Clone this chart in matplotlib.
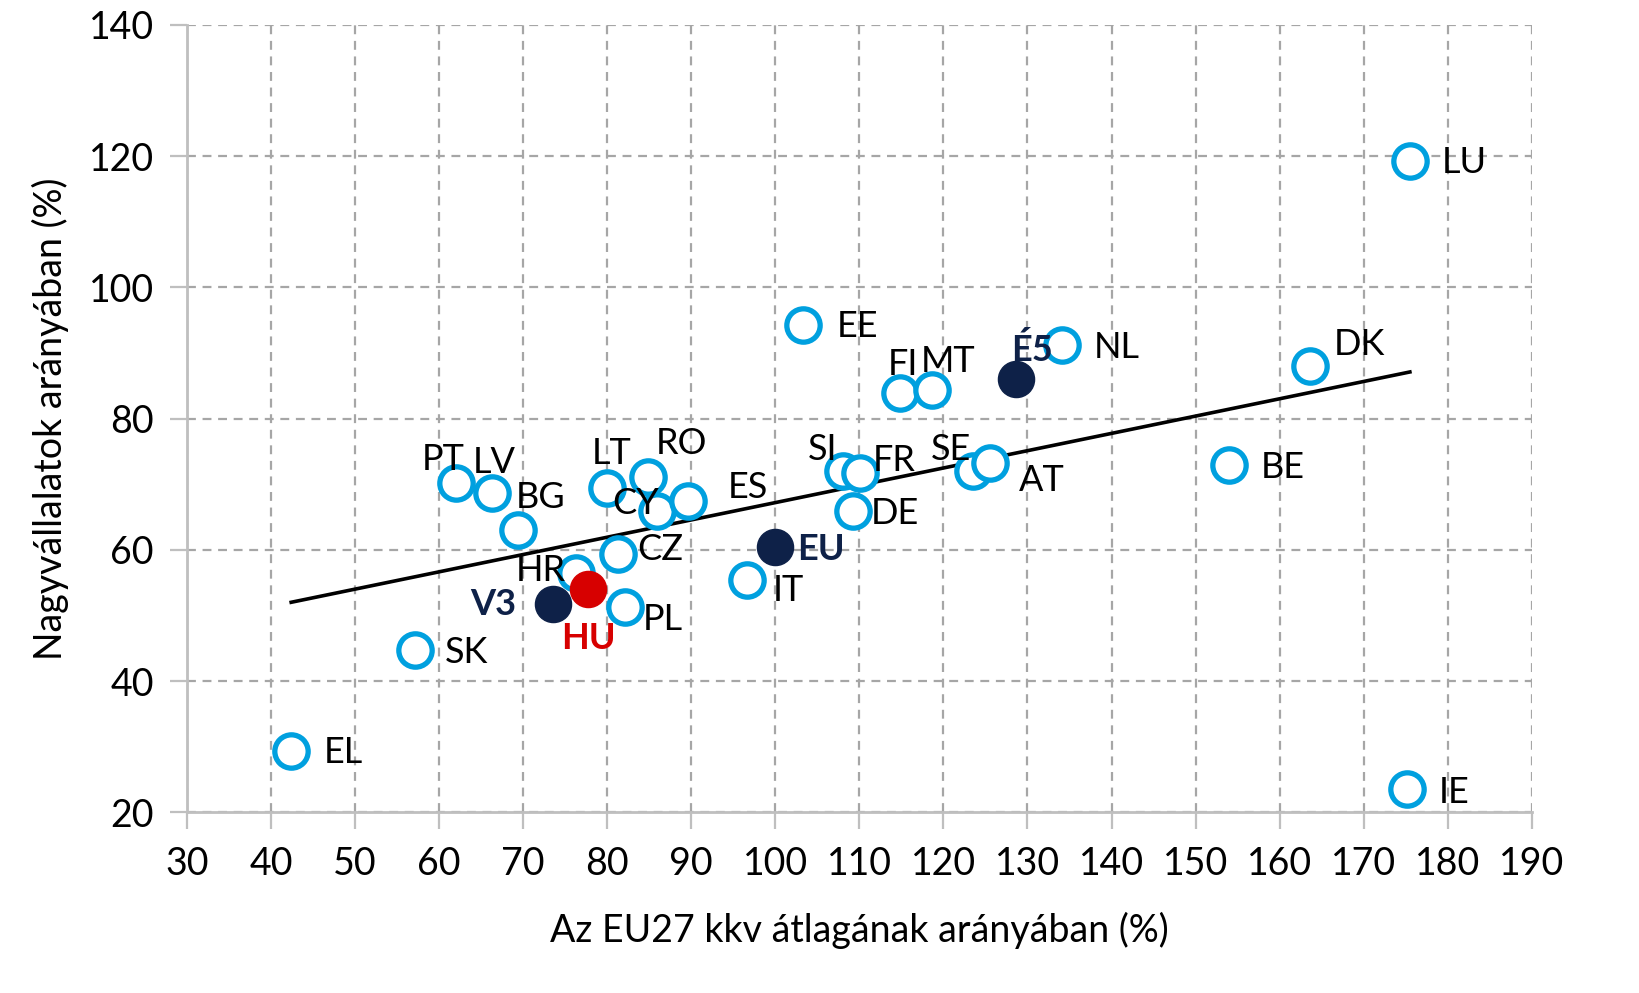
import matplotlib
matplotlib.use('Agg')
import matplotlib.pyplot as plt
import numpy as np

plt.rcParams['font.family'] = ['Lato', 'DejaVu Sans']

# országok (EU27)
countries = ['EL', 'SK', 'PT', 'LV', 'BG', 'LT', 'RO', 'CY', 'ES', 'CZ', 'HR', 'PL',
             'IT', 'EE', 'FI', 'MT', 'SI', 'FR', 'DE', 'SE', 'AT', 'NL', 'DK', 'BE',
             'LU', 'IE']
kkv = [42.4, 57.1, 62.0, 66.3, 69.4, 80.0, 84.8, 85.9, 89.6, 81.3, 76.3, 82.1,
       96.6, 103.3, 114.8, 118.6, 108.0, 110.1, 109.2, 123.5, 125.5, 134.1, 163.6, 154.0,
       175.5, 175.1]
nagy = [29.3, 44.7, 70.2, 68.7, 63.0, 69.4, 71.1, 65.9, 67.4, 59.4, 56.5, 51.3,
        55.4, 94.3, 83.9, 84.4, 72.0, 71.7, 65.9, 72.0, 73.2, 91.2, 88.0, 72.9,
        119.3, 23.5]

# aggregátumok
groups = ['V3', 'EU', 'É5']
groups_kkv = [73.5, 100.0, 128.6]
groups_nagy = [51.7, 60.4, 86.0]

hu_kkv, hu_nagy = 77.7, 54.0

# lineáris trend (Excel) végpontjai
trend_x = [42.4, 175.5]
trend_y = [52.0, 87.1]

# címke eltolások (pixel, felfelé pozitív)
offsets = {
    'EL': (52, -1), 'SK': (52, -2), 'PT': (-13, 23), 'LV': (2, 30), 'BG': (22, 33),
    'LT': (4, 35), 'RO': (34, 33), 'CY': (-21, 8), 'ES': (60, 14), 'CZ': (42, 4),
    'HR': (-35, 2), 'PL': (38, -13), 'IT': (42, -11), 'EE': (54, -2), 'FI': (3, 28),
    'MT': (16, 28), 'SI': (-20, 22), 'FR': (34, 13), 'DE': (42, -2), 'SE': (-22, 22),
    'AT': (52, -17), 'NL': (55, -2), 'DK': (50, 22), 'BE': (54, -2), 'LU': (54, -2),
    'IE': (48, -3), 'V3': (-59, 0), 'EU': (46, -2), 'É5': (16, 29), 'HU': (1, -49),
}

blue = '#00A0DF'
navy = '#0E2148'
red = '#D70000'

fig = plt.figure(figsize=(16.4, 9.93), dpi=100)
ax = fig.add_axes([0.114, 0.182, 0.82, 0.793])

ax.plot(trend_x, trend_y, color='black', linewidth=2.6, zorder=2)

ax.plot(kkv, nagy, 'o', markersize=24, markerfacecolor='white', markeredgecolor=blue,
        markeredgewidth=3.8, linestyle='none', zorder=3)
ax.plot(groups_kkv, groups_nagy, 'o', markersize=26, color=navy, linestyle='none', zorder=4)
ax.plot([hu_kkv], [hu_nagy], 'o', markersize=26, color=red, linestyle='none', zorder=5)

for name, x, y in zip(countries, kkv, nagy):
    ax.annotate(name, (x, y), xytext=offsets[name], textcoords='offset pixels',
                ha='center', va='center', fontsize=26, color='black', zorder=6)
for name, x, y in zip(groups, groups_kkv, groups_nagy):
    ax.annotate(name, (x, y), xytext=offsets[name], textcoords='offset pixels',
                ha='center', va='center', fontsize=26, color=navy, fontweight='bold', zorder=6)
ax.annotate('HU', (hu_kkv, hu_nagy), xytext=offsets['HU'], textcoords='offset pixels',
            ha='center', va='center', fontsize=26, color=red, fontweight='bold', zorder=6)

ax.set_xlim(30, 190)
ax.set_ylim(20, 140)
ax.set_xticks(np.arange(30, 191, 10))
ax.set_yticks(np.arange(20, 141, 20))
ax.grid(True, color='#A6A6A6', linestyle=(0, (4, 3)), linewidth=1.6)
ax.set_axisbelow(True)

for s in ['top', 'right']:
    ax.spines[s].set_visible(False)
for s in ['left', 'bottom']:
    ax.spines[s].set_color('#BFBFBF')
    ax.spines[s].set_linewidth(2)
ax.tick_params(axis='both', direction='out', length=12, width=1.6, color='#BFBFBF',
               labelsize=27, pad=12)

ax.set_xlabel('Az EU27 kkv átlagának arányában (%)', fontsize=27, labelpad=22)
ax.set_ylabel('Nagyvállalatok arányában (%)', fontsize=27, labelpad=14)

fig.savefig('out.png', dpi=100)
